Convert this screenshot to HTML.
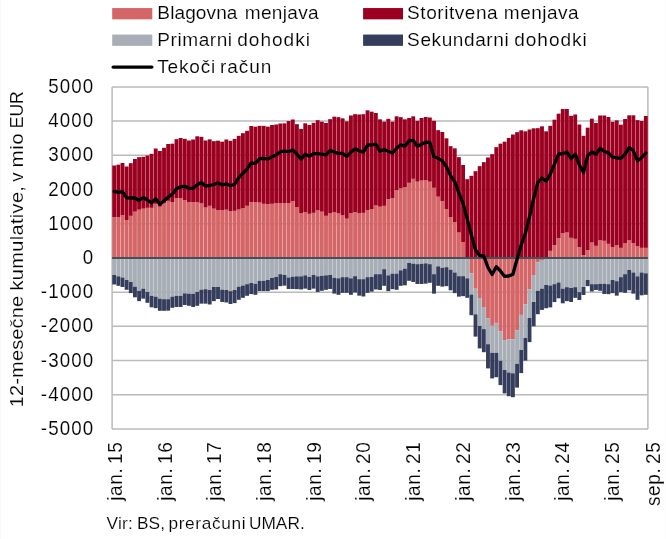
<!DOCTYPE html>
<html lang="sl">
<head>
<meta charset="utf-8">
<title>Tekoči račun</title>
<style>
html,body{margin:0;padding:0;background:#fff;}
body{width:666px;height:539px;overflow:hidden;}
svg{display:block;}
text{font-family:"Liberation Sans",sans-serif;fill:#000;}
</style>
</head>
<body>
<svg width="666" height="539" viewBox="0 0 666 539">
<rect width="666" height="539" fill="#fff"/>
<rect x="0" y="0" width="1" height="539" fill="#f8f8f8"/><rect x="665" y="0" width="1" height="539" fill="#fbfbfb"/>
<g stroke="#bababa" stroke-width="1.5" fill="none">
<line x1="112.1" y1="86.9" x2="647.9" y2="86.9"/>
<line x1="112.1" y1="121.11" x2="647.9" y2="121.11"/>
<line x1="112.1" y1="155.32" x2="647.9" y2="155.32"/>
<line x1="112.1" y1="189.53" x2="647.9" y2="189.53"/>
<line x1="112.1" y1="223.74" x2="647.9" y2="223.74"/>
<line x1="112.1" y1="292.16" x2="647.9" y2="292.16"/>
<line x1="112.1" y1="326.37" x2="647.9" y2="326.37"/>
<line x1="112.1" y1="360.58" x2="647.9" y2="360.58"/>
<line x1="112.1" y1="394.79" x2="647.9" y2="394.79"/>
<line x1="112.1" y1="429" x2="647.9" y2="429"/>
<line x1="112.1" y1="86.9" x2="112.1" y2="429"/>
<line x1="647.9" y1="86.9" x2="647.9" y2="429"/>
</g>
<g id="blagovna" fill="#d46667">
<rect x="112.24" y="217" width="3.87" height="40.7"/>
<rect x="116.39" y="217" width="3.87" height="40.7"/>
<rect x="120.55" y="215" width="3.87" height="42.7"/>
<rect x="124.7" y="220" width="3.87" height="37.7"/>
<rect x="128.85" y="215.83" width="3.87" height="41.87"/>
<rect x="133.01" y="211.67" width="3.87" height="46.03"/>
<rect x="137.16" y="209.67" width="3.87" height="48.03"/>
<rect x="141.31" y="208.67" width="3.87" height="49.03"/>
<rect x="145.47" y="207.83" width="3.87" height="49.87"/>
<rect x="149.62" y="207.83" width="3.87" height="49.87"/>
<rect x="153.77" y="203.83" width="3.87" height="53.87"/>
<rect x="157.93" y="206.67" width="3.87" height="51.03"/>
<rect x="162.08" y="203.33" width="3.87" height="54.37"/>
<rect x="166.24" y="200.83" width="3.87" height="56.87"/>
<rect x="170.39" y="202" width="3.87" height="55.7"/>
<rect x="174.54" y="198" width="3.87" height="59.7"/>
<rect x="178.7" y="198" width="3.87" height="59.7"/>
<rect x="182.85" y="200" width="3.87" height="57.7"/>
<rect x="187" y="202" width="3.87" height="55.7"/>
<rect x="191.16" y="202" width="3.87" height="55.7"/>
<rect x="195.31" y="202" width="3.87" height="55.7"/>
<rect x="199.46" y="203.33" width="3.87" height="54.37"/>
<rect x="203.62" y="207.5" width="3.87" height="50.2"/>
<rect x="207.77" y="205.83" width="3.87" height="51.87"/>
<rect x="211.92" y="208.67" width="3.87" height="49.03"/>
<rect x="216.08" y="210" width="3.87" height="47.7"/>
<rect x="220.23" y="210" width="3.87" height="47.7"/>
<rect x="224.38" y="209.67" width="3.87" height="48.03"/>
<rect x="228.54" y="211.17" width="3.87" height="46.53"/>
<rect x="232.69" y="210.83" width="3.87" height="46.87"/>
<rect x="236.84" y="209.5" width="3.87" height="48.2"/>
<rect x="241" y="208" width="3.87" height="49.7"/>
<rect x="245.15" y="205.83" width="3.87" height="51.87"/>
<rect x="249.31" y="202.17" width="3.87" height="55.53"/>
<rect x="253.46" y="202.17" width="3.87" height="55.53"/>
<rect x="257.61" y="202.5" width="3.87" height="55.2"/>
<rect x="261.77" y="203.83" width="3.87" height="53.87"/>
<rect x="265.92" y="204.17" width="3.87" height="53.53"/>
<rect x="270.07" y="203.83" width="3.87" height="53.87"/>
<rect x="274.23" y="203" width="3.87" height="54.7"/>
<rect x="278.38" y="203" width="3.87" height="54.7"/>
<rect x="282.53" y="203" width="3.87" height="54.7"/>
<rect x="286.69" y="203" width="3.87" height="54.7"/>
<rect x="290.84" y="201.17" width="3.87" height="56.53"/>
<rect x="294.99" y="207" width="3.87" height="50.7"/>
<rect x="299.15" y="213.33" width="3.87" height="44.37"/>
<rect x="303.3" y="212" width="3.87" height="45.7"/>
<rect x="307.45" y="213.83" width="3.87" height="43.87"/>
<rect x="311.61" y="212.83" width="3.87" height="44.87"/>
<rect x="315.76" y="210.33" width="3.87" height="47.37"/>
<rect x="319.91" y="211.67" width="3.87" height="46.03"/>
<rect x="324.07" y="215.83" width="3.87" height="41.87"/>
<rect x="328.22" y="213.33" width="3.87" height="44.37"/>
<rect x="332.37" y="212" width="3.87" height="45.7"/>
<rect x="336.53" y="213.33" width="3.87" height="44.37"/>
<rect x="340.68" y="215.33" width="3.87" height="42.37"/>
<rect x="344.84" y="218.67" width="3.87" height="39.03"/>
<rect x="348.99" y="213.33" width="3.87" height="44.37"/>
<rect x="353.14" y="212.17" width="3.87" height="45.53"/>
<rect x="357.3" y="213.33" width="3.87" height="44.37"/>
<rect x="361.45" y="212.83" width="3.87" height="44.87"/>
<rect x="365.6" y="210" width="3.87" height="47.7"/>
<rect x="369.76" y="209.17" width="3.87" height="48.53"/>
<rect x="373.91" y="205.5" width="3.87" height="52.2"/>
<rect x="378.06" y="206.67" width="3.87" height="51.03"/>
<rect x="382.22" y="205.83" width="3.87" height="51.87"/>
<rect x="386.37" y="199.17" width="3.87" height="58.53"/>
<rect x="390.52" y="198" width="3.87" height="59.7"/>
<rect x="394.68" y="190" width="3.87" height="67.7"/>
<rect x="398.83" y="188.33" width="3.87" height="69.37"/>
<rect x="402.98" y="187" width="3.87" height="70.7"/>
<rect x="407.14" y="182.83" width="3.87" height="74.87"/>
<rect x="411.29" y="178.83" width="3.87" height="78.87"/>
<rect x="415.44" y="181.67" width="3.87" height="76.03"/>
<rect x="419.6" y="180.5" width="3.87" height="77.2"/>
<rect x="423.75" y="180" width="3.87" height="77.7"/>
<rect x="427.91" y="181.67" width="3.87" height="76.03"/>
<rect x="432.06" y="187.83" width="3.87" height="69.87"/>
<rect x="436.21" y="196.67" width="3.87" height="61.03"/>
<rect x="440.37" y="201.17" width="3.87" height="56.53"/>
<rect x="444.52" y="209.17" width="3.87" height="48.53"/>
<rect x="448.67" y="217" width="3.87" height="40.7"/>
<rect x="452.83" y="222" width="3.87" height="35.7"/>
<rect x="456.98" y="232.5" width="3.87" height="25.2"/>
<rect x="461.13" y="242" width="3.87" height="15.7"/>
<rect x="469.44" y="257.7" width="3.87" height="15.6"/>
<rect x="473.59" y="257.7" width="3.87" height="31"/>
<rect x="477.75" y="257.7" width="3.87" height="40.3"/>
<rect x="481.9" y="257.7" width="3.87" height="49.3"/>
<rect x="486.05" y="257.7" width="3.87" height="60.6"/>
<rect x="490.21" y="257.7" width="3.87" height="68.1"/>
<rect x="494.36" y="257.7" width="3.87" height="65.2"/>
<rect x="498.51" y="257.7" width="3.87" height="73.7"/>
<rect x="502.67" y="257.7" width="3.87" height="82.4"/>
<rect x="506.82" y="257.7" width="3.87" height="81.6"/>
<rect x="510.97" y="257.7" width="3.87" height="81.6"/>
<rect x="515.13" y="257.7" width="3.87" height="72.8"/>
<rect x="519.28" y="257.7" width="3.87" height="57.2"/>
<rect x="523.44" y="257.7" width="3.87" height="46.5"/>
<rect x="527.59" y="257.7" width="3.87" height="31.5"/>
<rect x="531.74" y="257.7" width="3.87" height="17.3"/>
<rect x="535.9" y="257.7" width="3.87" height="4.6"/>
<rect x="540.05" y="257.7" width="3.87" height="2.3"/>
<rect x="548.36" y="250.83" width="3.87" height="6.87"/>
<rect x="552.51" y="245" width="3.87" height="12.7"/>
<rect x="556.66" y="238" width="3.87" height="19.7"/>
<rect x="560.82" y="233" width="3.87" height="24.7"/>
<rect x="564.97" y="232.5" width="3.87" height="25.2"/>
<rect x="569.12" y="237.83" width="3.87" height="19.87"/>
<rect x="573.28" y="238.83" width="3.87" height="18.87"/>
<rect x="577.43" y="247.17" width="3.87" height="10.53"/>
<rect x="581.58" y="255" width="3.87" height="2.7"/>
<rect x="585.74" y="250" width="3.87" height="7.7"/>
<rect x="589.89" y="242.5" width="3.87" height="15.2"/>
<rect x="594.04" y="245.83" width="3.87" height="11.87"/>
<rect x="598.2" y="240.33" width="3.87" height="17.37"/>
<rect x="602.35" y="240.83" width="3.87" height="16.87"/>
<rect x="606.51" y="243.83" width="3.87" height="13.87"/>
<rect x="610.66" y="247" width="3.87" height="10.7"/>
<rect x="614.81" y="245" width="3.87" height="12.7"/>
<rect x="618.97" y="247.83" width="3.87" height="9.87"/>
<rect x="623.12" y="243.33" width="3.87" height="14.37"/>
<rect x="627.27" y="240.33" width="3.87" height="17.37"/>
<rect x="631.43" y="243" width="3.87" height="14.7"/>
<rect x="635.58" y="246.17" width="3.87" height="11.53"/>
<rect x="639.73" y="247.83" width="3.87" height="9.87"/>
<rect x="643.89" y="247.83" width="3.87" height="9.87"/>
</g>
<g id="storitvena" fill="#9b0020">
<rect x="112.24" y="165.5" width="3.87" height="51.5"/>
<rect x="116.39" y="164.67" width="3.87" height="52.33"/>
<rect x="120.55" y="163" width="3.87" height="52"/>
<rect x="124.7" y="166.5" width="3.87" height="53.5"/>
<rect x="128.85" y="163.17" width="3.87" height="52.67"/>
<rect x="133.01" y="159" width="3.87" height="52.67"/>
<rect x="137.16" y="157.17" width="3.87" height="52.5"/>
<rect x="141.31" y="156.83" width="3.87" height="51.83"/>
<rect x="145.47" y="155.5" width="3.87" height="52.33"/>
<rect x="149.62" y="153.83" width="3.87" height="54"/>
<rect x="153.77" y="148.5" width="3.87" height="55.33"/>
<rect x="157.93" y="151" width="3.87" height="55.67"/>
<rect x="162.08" y="147.83" width="3.87" height="55.5"/>
<rect x="166.24" y="144" width="3.87" height="56.83"/>
<rect x="170.39" y="143.67" width="3.87" height="58.33"/>
<rect x="174.54" y="139.17" width="3.87" height="58.83"/>
<rect x="178.7" y="138" width="3.87" height="60"/>
<rect x="182.85" y="138.83" width="3.87" height="61.17"/>
<rect x="187" y="140.5" width="3.87" height="61.5"/>
<rect x="191.16" y="139.5" width="3.87" height="62.5"/>
<rect x="195.31" y="136.33" width="3.87" height="65.67"/>
<rect x="199.46" y="136.83" width="3.87" height="66.5"/>
<rect x="203.62" y="140.5" width="3.87" height="67"/>
<rect x="207.77" y="139.33" width="3.87" height="66.5"/>
<rect x="211.92" y="141.17" width="3.87" height="67.5"/>
<rect x="216.08" y="140.67" width="3.87" height="69.33"/>
<rect x="220.23" y="141.67" width="3.87" height="68.33"/>
<rect x="224.38" y="139.5" width="3.87" height="70.17"/>
<rect x="228.54" y="140.83" width="3.87" height="70.33"/>
<rect x="232.69" y="139" width="3.87" height="71.83"/>
<rect x="236.84" y="135.83" width="3.87" height="73.67"/>
<rect x="241" y="133.17" width="3.87" height="74.83"/>
<rect x="245.15" y="130.83" width="3.87" height="75"/>
<rect x="249.31" y="126" width="3.87" height="76.17"/>
<rect x="253.46" y="126.67" width="3.87" height="75.5"/>
<rect x="257.61" y="125.83" width="3.87" height="76.67"/>
<rect x="261.77" y="125.83" width="3.87" height="78"/>
<rect x="265.92" y="126.67" width="3.87" height="77.5"/>
<rect x="270.07" y="125" width="3.87" height="78.83"/>
<rect x="274.23" y="124.5" width="3.87" height="78.5"/>
<rect x="278.38" y="123.5" width="3.87" height="79.5"/>
<rect x="282.53" y="123.33" width="3.87" height="79.67"/>
<rect x="286.69" y="121" width="3.87" height="82"/>
<rect x="290.84" y="119.5" width="3.87" height="81.67"/>
<rect x="294.99" y="124.17" width="3.87" height="82.83"/>
<rect x="299.15" y="129" width="3.87" height="84.33"/>
<rect x="303.3" y="123.33" width="3.87" height="88.67"/>
<rect x="307.45" y="125" width="3.87" height="88.83"/>
<rect x="311.61" y="122.83" width="3.87" height="90"/>
<rect x="315.76" y="120.17" width="3.87" height="90.17"/>
<rect x="319.91" y="121.67" width="3.87" height="90"/>
<rect x="324.07" y="123" width="3.87" height="92.83"/>
<rect x="328.22" y="119.17" width="3.87" height="94.17"/>
<rect x="332.37" y="116.67" width="3.87" height="95.33"/>
<rect x="336.53" y="117.17" width="3.87" height="96.17"/>
<rect x="340.68" y="118.33" width="3.87" height="97"/>
<rect x="344.84" y="121.33" width="3.87" height="97.33"/>
<rect x="348.99" y="115.5" width="3.87" height="97.83"/>
<rect x="353.14" y="114.17" width="3.87" height="98"/>
<rect x="357.3" y="114.5" width="3.87" height="98.83"/>
<rect x="361.45" y="114.17" width="3.87" height="98.67"/>
<rect x="365.6" y="110.33" width="3.87" height="99.67"/>
<rect x="369.76" y="111.67" width="3.87" height="97.5"/>
<rect x="373.91" y="113" width="3.87" height="92.5"/>
<rect x="378.06" y="119.33" width="3.87" height="87.33"/>
<rect x="382.22" y="121.67" width="3.87" height="84.17"/>
<rect x="386.37" y="118.83" width="3.87" height="80.33"/>
<rect x="390.52" y="121.67" width="3.87" height="76.33"/>
<rect x="394.68" y="116.33" width="3.87" height="73.67"/>
<rect x="398.83" y="117.17" width="3.87" height="71.17"/>
<rect x="402.98" y="119.33" width="3.87" height="67.67"/>
<rect x="407.14" y="118" width="3.87" height="64.83"/>
<rect x="411.29" y="116.33" width="3.87" height="62.5"/>
<rect x="415.44" y="120.83" width="3.87" height="60.83"/>
<rect x="419.6" y="118" width="3.87" height="62.5"/>
<rect x="423.75" y="117" width="3.87" height="63"/>
<rect x="427.91" y="117.5" width="3.87" height="64.17"/>
<rect x="432.06" y="120.83" width="3.87" height="67"/>
<rect x="436.21" y="130.17" width="3.87" height="66.5"/>
<rect x="440.37" y="132" width="3.87" height="69.17"/>
<rect x="444.52" y="138.33" width="3.87" height="70.83"/>
<rect x="448.67" y="146.17" width="3.87" height="70.83"/>
<rect x="452.83" y="148.33" width="3.87" height="73.67"/>
<rect x="456.98" y="157.17" width="3.87" height="75.33"/>
<rect x="461.13" y="165" width="3.87" height="77"/>
<rect x="465.29" y="179.17" width="3.87" height="78.53"/>
<rect x="469.44" y="175.83" width="3.87" height="81.87"/>
<rect x="473.59" y="171.17" width="3.87" height="86.53"/>
<rect x="477.75" y="166.17" width="3.87" height="91.53"/>
<rect x="481.9" y="162.17" width="3.87" height="95.53"/>
<rect x="486.05" y="157.5" width="3.87" height="100.2"/>
<rect x="490.21" y="154.17" width="3.87" height="103.53"/>
<rect x="494.36" y="147.17" width="3.87" height="110.53"/>
<rect x="498.51" y="143.67" width="3.87" height="114.03"/>
<rect x="502.67" y="141.67" width="3.87" height="116.03"/>
<rect x="506.82" y="138" width="3.87" height="119.7"/>
<rect x="510.97" y="134.5" width="3.87" height="123.2"/>
<rect x="515.13" y="132.17" width="3.87" height="125.53"/>
<rect x="519.28" y="130.33" width="3.87" height="127.37"/>
<rect x="523.44" y="131.33" width="3.87" height="126.37"/>
<rect x="527.59" y="129.5" width="3.87" height="128.2"/>
<rect x="531.74" y="128.33" width="3.87" height="129.37"/>
<rect x="535.9" y="128.17" width="3.87" height="129.53"/>
<rect x="540.05" y="126.33" width="3.87" height="131.37"/>
<rect x="544.2" y="131.33" width="3.87" height="126.37"/>
<rect x="548.36" y="125.83" width="3.87" height="125"/>
<rect x="552.51" y="119.67" width="3.87" height="125.33"/>
<rect x="556.66" y="113.67" width="3.87" height="124.33"/>
<rect x="560.82" y="109" width="3.87" height="124"/>
<rect x="564.97" y="109" width="3.87" height="123.5"/>
<rect x="569.12" y="115.83" width="3.87" height="122"/>
<rect x="573.28" y="114.5" width="3.87" height="124.33"/>
<rect x="577.43" y="124.5" width="3.87" height="122.67"/>
<rect x="581.58" y="135.83" width="3.87" height="119.17"/>
<rect x="585.74" y="127.67" width="3.87" height="122.33"/>
<rect x="589.89" y="118.67" width="3.87" height="123.83"/>
<rect x="594.04" y="123" width="3.87" height="122.83"/>
<rect x="598.2" y="115.5" width="3.87" height="124.83"/>
<rect x="602.35" y="115.5" width="3.87" height="125.33"/>
<rect x="606.51" y="117" width="3.87" height="126.83"/>
<rect x="610.66" y="121.83" width="3.87" height="125.17"/>
<rect x="614.81" y="120.33" width="3.87" height="124.67"/>
<rect x="618.97" y="124.67" width="3.87" height="123.17"/>
<rect x="623.12" y="119" width="3.87" height="124.33"/>
<rect x="627.27" y="115.33" width="3.87" height="125"/>
<rect x="631.43" y="115.33" width="3.87" height="127.67"/>
<rect x="635.58" y="120.17" width="3.87" height="126"/>
<rect x="639.73" y="121" width="3.87" height="126.83"/>
<rect x="643.89" y="116" width="3.87" height="131.83"/>
</g>
<g id="primarni" fill="#a7aeb6">
<rect x="112.24" y="257.7" width="3.87" height="17.3"/>
<rect x="116.39" y="257.7" width="3.87" height="18.63"/>
<rect x="120.55" y="257.7" width="3.87" height="19.8"/>
<rect x="124.7" y="257.7" width="3.87" height="22.3"/>
<rect x="128.85" y="257.7" width="3.87" height="24.3"/>
<rect x="133.01" y="257.7" width="3.87" height="28.97"/>
<rect x="137.16" y="257.7" width="3.87" height="33.13"/>
<rect x="141.31" y="257.7" width="3.87" height="30.97"/>
<rect x="145.47" y="257.7" width="3.87" height="34.3"/>
<rect x="149.62" y="257.7" width="3.87" height="38.13"/>
<rect x="153.77" y="257.7" width="3.87" height="38.97"/>
<rect x="157.93" y="257.7" width="3.87" height="40.97"/>
<rect x="162.08" y="257.7" width="3.87" height="41.47"/>
<rect x="166.24" y="257.7" width="3.87" height="41.47"/>
<rect x="170.39" y="257.7" width="3.87" height="38.97"/>
<rect x="174.54" y="257.7" width="3.87" height="38.13"/>
<rect x="178.7" y="257.7" width="3.87" height="38.13"/>
<rect x="182.85" y="257.7" width="3.87" height="35.63"/>
<rect x="187" y="257.7" width="3.87" height="35.97"/>
<rect x="191.16" y="257.7" width="3.87" height="36.13"/>
<rect x="195.31" y="257.7" width="3.87" height="34.3"/>
<rect x="199.46" y="257.7" width="3.87" height="31.97"/>
<rect x="203.62" y="257.7" width="3.87" height="31.47"/>
<rect x="207.77" y="257.7" width="3.87" height="32.3"/>
<rect x="211.92" y="257.7" width="3.87" height="29.3"/>
<rect x="216.08" y="257.7" width="3.87" height="29.3"/>
<rect x="220.23" y="257.7" width="3.87" height="31.97"/>
<rect x="224.38" y="257.7" width="3.87" height="32.3"/>
<rect x="228.54" y="257.7" width="3.87" height="33.47"/>
<rect x="232.69" y="257.7" width="3.87" height="32.3"/>
<rect x="236.84" y="257.7" width="3.87" height="28.97"/>
<rect x="241" y="257.7" width="3.87" height="27.8"/>
<rect x="245.15" y="257.7" width="3.87" height="26.47"/>
<rect x="249.31" y="257.7" width="3.87" height="25.3"/>
<rect x="253.46" y="257.7" width="3.87" height="26.13"/>
<rect x="257.61" y="257.7" width="3.87" height="23.13"/>
<rect x="261.77" y="257.7" width="3.87" height="23.13"/>
<rect x="265.92" y="257.7" width="3.87" height="22.3"/>
<rect x="270.07" y="257.7" width="3.87" height="20.3"/>
<rect x="274.23" y="257.7" width="3.87" height="19.3"/>
<rect x="278.38" y="257.7" width="3.87" height="16.47"/>
<rect x="282.53" y="257.7" width="3.87" height="17.3"/>
<rect x="286.69" y="257.7" width="3.87" height="19.8"/>
<rect x="290.84" y="257.7" width="3.87" height="18.97"/>
<rect x="294.99" y="257.7" width="3.87" height="18.63"/>
<rect x="299.15" y="257.7" width="3.87" height="18.63"/>
<rect x="303.3" y="257.7" width="3.87" height="17.63"/>
<rect x="307.45" y="257.7" width="3.87" height="19.3"/>
<rect x="311.61" y="257.7" width="3.87" height="17.3"/>
<rect x="315.76" y="257.7" width="3.87" height="18.63"/>
<rect x="319.91" y="257.7" width="3.87" height="18.13"/>
<rect x="324.07" y="257.7" width="3.87" height="17.63"/>
<rect x="328.22" y="257.7" width="3.87" height="17.3"/>
<rect x="332.37" y="257.7" width="3.87" height="20.13"/>
<rect x="336.53" y="257.7" width="3.87" height="20.63"/>
<rect x="340.68" y="257.7" width="3.87" height="19.47"/>
<rect x="344.84" y="257.7" width="3.87" height="19.47"/>
<rect x="348.99" y="257.7" width="3.87" height="20.63"/>
<rect x="353.14" y="257.7" width="3.87" height="18.47"/>
<rect x="357.3" y="257.7" width="3.87" height="21.47"/>
<rect x="361.45" y="257.7" width="3.87" height="21.47"/>
<rect x="365.6" y="257.7" width="3.87" height="19.47"/>
<rect x="369.76" y="257.7" width="3.87" height="19.3"/>
<rect x="373.91" y="257.7" width="3.87" height="16.47"/>
<rect x="378.06" y="257.7" width="3.87" height="16.47"/>
<rect x="382.22" y="257.7" width="3.87" height="11.47"/>
<rect x="386.37" y="257.7" width="3.87" height="17.63"/>
<rect x="390.52" y="257.7" width="3.87" height="15.97"/>
<rect x="394.68" y="257.7" width="3.87" height="15.97"/>
<rect x="398.83" y="257.7" width="3.87" height="12.63"/>
<rect x="402.98" y="257.7" width="3.87" height="10.97"/>
<rect x="407.14" y="257.7" width="3.87" height="5.3"/>
<rect x="411.29" y="257.7" width="3.87" height="5.97"/>
<rect x="415.44" y="257.7" width="3.87" height="6.47"/>
<rect x="419.6" y="257.7" width="3.87" height="6.13"/>
<rect x="423.75" y="257.7" width="3.87" height="5.63"/>
<rect x="427.91" y="257.7" width="3.87" height="6.47"/>
<rect x="432.06" y="257.7" width="3.87" height="16.47"/>
<rect x="436.21" y="257.7" width="3.87" height="8.63"/>
<rect x="440.37" y="257.7" width="3.87" height="10.13"/>
<rect x="444.52" y="257.7" width="3.87" height="9.47"/>
<rect x="448.67" y="257.7" width="3.87" height="11.97"/>
<rect x="452.83" y="257.7" width="3.87" height="14.8"/>
<rect x="456.98" y="257.7" width="3.87" height="18.47"/>
<rect x="461.13" y="257.7" width="3.87" height="18.47"/>
<rect x="465.29" y="257.7" width="3.87" height="20.63"/>
<rect x="469.44" y="273.3" width="3.87" height="21.2"/>
<rect x="473.59" y="288.7" width="3.87" height="25.6"/>
<rect x="477.75" y="298" width="3.87" height="28"/>
<rect x="481.9" y="307" width="3.87" height="22.1"/>
<rect x="486.05" y="318.3" width="3.87" height="25.9"/>
<rect x="490.21" y="325.8" width="3.87" height="27"/>
<rect x="494.36" y="322.9" width="3.87" height="29.9"/>
<rect x="498.51" y="331.4" width="3.87" height="29.4"/>
<rect x="502.67" y="340.1" width="3.87" height="29.9"/>
<rect x="506.82" y="339.3" width="3.87" height="33.2"/>
<rect x="510.97" y="339.3" width="3.87" height="34"/>
<rect x="515.13" y="330.5" width="3.87" height="33.3"/>
<rect x="519.28" y="314.9" width="3.87" height="35.1"/>
<rect x="523.44" y="304.2" width="3.87" height="33.8"/>
<rect x="527.59" y="289.2" width="3.87" height="28.8"/>
<rect x="531.74" y="275" width="3.87" height="27"/>
<rect x="535.9" y="262.3" width="3.87" height="28.5"/>
<rect x="540.05" y="260" width="3.87" height="28.67"/>
<rect x="544.2" y="257.7" width="3.87" height="27.3"/>
<rect x="548.36" y="257.7" width="3.87" height="27.8"/>
<rect x="552.51" y="257.7" width="3.87" height="26.47"/>
<rect x="556.66" y="257.7" width="3.87" height="24.8"/>
<rect x="560.82" y="257.7" width="3.87" height="30.97"/>
<rect x="564.97" y="257.7" width="3.87" height="29.47"/>
<rect x="569.12" y="257.7" width="3.87" height="30.3"/>
<rect x="573.28" y="257.7" width="3.87" height="29.47"/>
<rect x="577.43" y="257.7" width="3.87" height="34.47"/>
<rect x="581.58" y="257.7" width="3.87" height="29.3"/>
<rect x="585.74" y="257.7" width="3.87" height="22.3"/>
<rect x="589.89" y="257.7" width="3.87" height="26.47"/>
<rect x="594.04" y="257.7" width="3.87" height="26.47"/>
<rect x="598.2" y="257.7" width="3.87" height="26.13"/>
<rect x="602.35" y="257.7" width="3.87" height="26.13"/>
<rect x="606.51" y="257.7" width="3.87" height="26.47"/>
<rect x="610.66" y="257.7" width="3.87" height="22.3"/>
<rect x="614.81" y="257.7" width="3.87" height="23.47"/>
<rect x="618.97" y="257.7" width="3.87" height="19.47"/>
<rect x="623.12" y="257.7" width="3.87" height="16.47"/>
<rect x="627.27" y="257.7" width="3.87" height="12.3"/>
<rect x="631.43" y="257.7" width="3.87" height="14.8"/>
<rect x="635.58" y="257.7" width="3.87" height="18.63"/>
<rect x="639.73" y="257.7" width="3.87" height="14.8"/>
<rect x="643.89" y="257.7" width="3.87" height="15.63"/>
</g>
<g id="sekundarni" fill="#343d5c">
<rect x="112.24" y="275" width="3.87" height="9.47"/>
<rect x="116.39" y="276.33" width="3.87" height="9.47"/>
<rect x="120.55" y="277.5" width="3.87" height="9.47"/>
<rect x="124.7" y="280" width="3.87" height="9.8"/>
<rect x="128.85" y="282" width="3.87" height="11.13"/>
<rect x="133.01" y="286.67" width="3.87" height="10.63"/>
<rect x="137.16" y="290.83" width="3.87" height="10.3"/>
<rect x="141.31" y="288.67" width="3.87" height="9.97"/>
<rect x="145.47" y="292" width="3.87" height="10.8"/>
<rect x="149.62" y="295.83" width="3.87" height="11.47"/>
<rect x="153.77" y="296.67" width="3.87" height="11.47"/>
<rect x="157.93" y="298.67" width="3.87" height="12.13"/>
<rect x="162.08" y="299.17" width="3.87" height="11.63"/>
<rect x="166.24" y="299.17" width="3.87" height="11.47"/>
<rect x="170.39" y="296.67" width="3.87" height="11.13"/>
<rect x="174.54" y="295.83" width="3.87" height="11.13"/>
<rect x="178.7" y="295.83" width="3.87" height="11.13"/>
<rect x="182.85" y="293.33" width="3.87" height="11.63"/>
<rect x="187" y="293.67" width="3.87" height="12.13"/>
<rect x="191.16" y="293.83" width="3.87" height="13.13"/>
<rect x="195.31" y="292" width="3.87" height="13.8"/>
<rect x="199.46" y="289.67" width="3.87" height="13.97"/>
<rect x="203.62" y="289.17" width="3.87" height="14.47"/>
<rect x="207.77" y="290" width="3.87" height="14.47"/>
<rect x="211.92" y="287" width="3.87" height="14.13"/>
<rect x="216.08" y="287" width="3.87" height="11.97"/>
<rect x="220.23" y="289.67" width="3.87" height="12.3"/>
<rect x="224.38" y="290" width="3.87" height="12.47"/>
<rect x="228.54" y="291.17" width="3.87" height="12.8"/>
<rect x="232.69" y="290" width="3.87" height="13.13"/>
<rect x="236.84" y="286.67" width="3.87" height="13.13"/>
<rect x="241" y="285.5" width="3.87" height="12.3"/>
<rect x="245.15" y="284.17" width="3.87" height="11.63"/>
<rect x="249.31" y="283" width="3.87" height="11.13"/>
<rect x="253.46" y="283.83" width="3.87" height="10.97"/>
<rect x="257.61" y="280.83" width="3.87" height="10.3"/>
<rect x="261.77" y="280.83" width="3.87" height="10.3"/>
<rect x="265.92" y="280" width="3.87" height="11.13"/>
<rect x="270.07" y="278" width="3.87" height="11.8"/>
<rect x="274.23" y="277" width="3.87" height="12.47"/>
<rect x="278.38" y="274.17" width="3.87" height="11.97"/>
<rect x="282.53" y="275" width="3.87" height="10.63"/>
<rect x="286.69" y="277.5" width="3.87" height="11.47"/>
<rect x="290.84" y="276.67" width="3.87" height="12.3"/>
<rect x="294.99" y="276.33" width="3.87" height="12.8"/>
<rect x="299.15" y="276.33" width="3.87" height="13.13"/>
<rect x="303.3" y="275.33" width="3.87" height="13.3"/>
<rect x="307.45" y="277" width="3.87" height="12.97"/>
<rect x="311.61" y="275" width="3.87" height="13.63"/>
<rect x="315.76" y="276.33" width="3.87" height="15.63"/>
<rect x="319.91" y="275.83" width="3.87" height="14.97"/>
<rect x="324.07" y="275.33" width="3.87" height="14.47"/>
<rect x="328.22" y="275" width="3.87" height="13.97"/>
<rect x="332.37" y="277.83" width="3.87" height="15.8"/>
<rect x="336.53" y="278.33" width="3.87" height="16.47"/>
<rect x="340.68" y="277.17" width="3.87" height="15.63"/>
<rect x="344.84" y="277.17" width="3.87" height="15.63"/>
<rect x="348.99" y="278.33" width="3.87" height="16.47"/>
<rect x="353.14" y="276.17" width="3.87" height="16.3"/>
<rect x="357.3" y="279.17" width="3.87" height="16.47"/>
<rect x="361.45" y="279.17" width="3.87" height="17.3"/>
<rect x="365.6" y="277.17" width="3.87" height="15.63"/>
<rect x="369.76" y="277" width="3.87" height="14.63"/>
<rect x="373.91" y="274.17" width="3.87" height="15.3"/>
<rect x="378.06" y="274.17" width="3.87" height="15.8"/>
<rect x="382.22" y="269.17" width="3.87" height="16.63"/>
<rect x="386.37" y="275.33" width="3.87" height="15.8"/>
<rect x="390.52" y="273.67" width="3.87" height="15.47"/>
<rect x="394.68" y="273.67" width="3.87" height="16.13"/>
<rect x="398.83" y="270.33" width="3.87" height="15.47"/>
<rect x="402.98" y="268.67" width="3.87" height="16.63"/>
<rect x="407.14" y="263" width="3.87" height="17.8"/>
<rect x="411.29" y="263.67" width="3.87" height="18.3"/>
<rect x="415.44" y="264.17" width="3.87" height="19.8"/>
<rect x="419.6" y="263.83" width="3.87" height="20.13"/>
<rect x="423.75" y="263.33" width="3.87" height="20.3"/>
<rect x="427.91" y="264.17" width="3.87" height="18.63"/>
<rect x="432.06" y="274.17" width="3.87" height="19.47"/>
<rect x="436.21" y="266.33" width="3.87" height="19.47"/>
<rect x="440.37" y="267.83" width="3.87" height="18.8"/>
<rect x="444.52" y="267.17" width="3.87" height="18.97"/>
<rect x="448.67" y="269.67" width="3.87" height="20.63"/>
<rect x="452.83" y="272.5" width="3.87" height="20.63"/>
<rect x="456.98" y="276.17" width="3.87" height="20.47"/>
<rect x="461.13" y="276.17" width="3.87" height="19.97"/>
<rect x="465.29" y="278.33" width="3.87" height="19.47"/>
<rect x="469.44" y="294.5" width="3.87" height="20.7"/>
<rect x="473.59" y="314.3" width="3.87" height="22.3"/>
<rect x="477.75" y="326" width="3.87" height="22.4"/>
<rect x="481.9" y="329.1" width="3.87" height="23.1"/>
<rect x="486.05" y="344.2" width="3.87" height="24.2"/>
<rect x="490.21" y="352.8" width="3.87" height="25.6"/>
<rect x="494.36" y="352.8" width="3.87" height="24.4"/>
<rect x="498.51" y="360.8" width="3.87" height="24.3"/>
<rect x="502.67" y="370" width="3.87" height="23.4"/>
<rect x="506.82" y="372.5" width="3.87" height="23.7"/>
<rect x="510.97" y="373.3" width="3.87" height="23.9"/>
<rect x="515.13" y="363.8" width="3.87" height="23.8"/>
<rect x="519.28" y="350" width="3.87" height="23.1"/>
<rect x="523.44" y="338" width="3.87" height="22.6"/>
<rect x="527.59" y="318" width="3.87" height="24.1"/>
<rect x="531.74" y="302" width="3.87" height="24.2"/>
<rect x="535.9" y="290.8" width="3.87" height="23.4"/>
<rect x="540.05" y="288.67" width="3.87" height="21.23"/>
<rect x="544.2" y="285" width="3.87" height="23.23"/>
<rect x="548.36" y="285.5" width="3.87" height="21.9"/>
<rect x="552.51" y="284.17" width="3.87" height="17.9"/>
<rect x="556.66" y="282.5" width="3.87" height="15.8"/>
<rect x="560.82" y="288.67" width="3.87" height="14.63"/>
<rect x="564.97" y="287.17" width="3.87" height="13.97"/>
<rect x="569.12" y="288" width="3.87" height="13.97"/>
<rect x="573.28" y="287.17" width="3.87" height="10.63"/>
<rect x="577.43" y="292.17" width="3.87" height="7.8"/>
<rect x="581.58" y="287" width="3.87" height="7.97"/>
<rect x="585.74" y="280" width="3.87" height="6.13"/>
<rect x="589.89" y="284.17" width="3.87" height="7.3"/>
<rect x="594.04" y="284.17" width="3.87" height="5.8"/>
<rect x="598.2" y="283.83" width="3.87" height="6.97"/>
<rect x="602.35" y="283.83" width="3.87" height="10.13"/>
<rect x="606.51" y="284.17" width="3.87" height="9.97"/>
<rect x="610.66" y="280" width="3.87" height="13.13"/>
<rect x="614.81" y="281.17" width="3.87" height="14.47"/>
<rect x="618.97" y="277.17" width="3.87" height="14.8"/>
<rect x="623.12" y="274.17" width="3.87" height="18.63"/>
<rect x="627.27" y="270" width="3.87" height="20.3"/>
<rect x="631.43" y="272.5" width="3.87" height="21.13"/>
<rect x="635.58" y="276.33" width="3.87" height="23.47"/>
<rect x="639.73" y="272.5" width="3.87" height="22.8"/>
<rect x="643.89" y="273.33" width="3.87" height="21.47"/>
</g>
<line x1="112.1" y1="258.05" x2="647.9" y2="258.05" stroke="#484e5a" stroke-width="2"/>
<polyline id="tekoci" points="114.18,191.33 118.33,192.33 122.48,191.67 126.64,197.83 130.79,198 134.94,198 139.1,200.5 143.25,197.5 147.4,200 151.56,202.83 155.71,198.67 159.87,204.17 164.02,200.83 168.17,197.17 172.33,194.17 176.48,188.83 180.63,186.67 184.79,186.33 188.94,188.33 193.09,188.33 197.25,184.67 201.4,182.5 205.55,186.17 209.71,185.5 213.86,184.5 218.01,182.83 222.17,185 226.32,183.83 230.47,185.83 234.63,184.17 238.78,177.5 242.93,173.33 247.09,169.17 251.24,163 255.4,163.33 259.55,158.67 263.7,158.33 267.86,159.17 272.01,156.67 276.16,155 280.32,151.67 284.47,151.17 288.62,151.67 292.78,150 296.93,154.17 301.08,159.17 305.24,154.17 309.39,156.33 313.54,153.67 317.7,153.67 321.85,154.17 326,155 330.16,150.33 334.31,152.17 338.47,153.33 342.62,153.33 346.77,156.33 350.93,152.17 355.08,148.83 359.23,150.83 363.39,152.17 367.54,145 371.69,145 375.85,144.17 380,151.33 384.15,149.5 388.31,151.17 392.46,153 396.61,148.33 400.77,144.67 404.92,146.33 409.07,140.83 413.23,140.33 417.38,146.33 421.53,144.17 425.69,142.17 429.84,142.5 434,156.67 438.15,158.33 442.3,160.83 446.46,166.67 450.61,175.83 454.76,181.67 458.92,193.3 463.07,203.3 467.22,219.2 471.38,235 475.53,250 479.68,255.5 483.84,256 487.99,267.5 492.14,274.5 496.3,266.7 500.45,271 504.6,276.4 508.76,276 512.91,274.2 517.07,259 521.22,245 525.37,233.3 529.53,216.7 533.68,198.3 537.83,182.5 541.99,178 546.14,181.17 550.29,174.17 554.45,164.17 558.6,154.17 562.75,153.67 566.91,152 571.06,158.67 575.21,154.17 579.37,165 583.52,172.5 587.67,155.5 591.83,152 595.98,154.17 600.13,148.33 604.29,151.33 608.44,153 612.6,157.17 616.75,158 620.9,158.33 625.06,154.17 629.21,147.5 633.36,150.83 637.52,160.83 641.67,157.5 645.82,153" fill="none" stroke="#000" stroke-width="3.3" stroke-linejoin="round" stroke-linecap="round"/>
<rect x="112.2" y="8.05" width="40.1" height="11.3" fill="#d46667"/>
<rect x="112.2" y="34.55" width="40.1" height="11.3" fill="#a7aeb6"/>
<rect x="363.1" y="8.05" width="39.9" height="11.3" fill="#9b0020"/>
<rect x="363.1" y="34.55" width="39.9" height="11.3" fill="#343d5c"/>
<line x1="113.1" y1="67.05" x2="151.9" y2="67.05" stroke="#000" stroke-width="3.3" stroke-linecap="round"/>
<g stroke="#fff" stroke-width="0.15" stroke-linejoin="round">
<text transform="translate(158.95 18.7) scale(1.06 1)" font-size="18"><tspan x="-1.5" letter-spacing="0.080">Blagovna </tspan><tspan x="80.92" letter-spacing="0.290">menjava</tspan></text>
<text transform="translate(158.95 45.6) scale(1.06 1)" font-size="18"><tspan x="-1.5" letter-spacing="0.498">Primarni </tspan><tspan x="73.84" letter-spacing="0.939">dohodki</tspan></text>
<text transform="translate(157.65 72.6) scale(1.06 1)" font-size="18"><tspan x="-0.5" letter-spacing="0.773">Tekoči </tspan><tspan x="58.75" letter-spacing="0.861">račun</tspan></text>
<text transform="translate(408.15 18.7) scale(1.06 1)" font-size="18"><tspan x="-1" letter-spacing="0.493">Storitvena </tspan><tspan x="90.26" letter-spacing="0.432">menjava</tspan></text>
<text transform="translate(408.15 45.6) scale(1.06 1)" font-size="18"><tspan x="-1" letter-spacing="0.537">Sekundarni </tspan><tspan x="100.07" letter-spacing="0.908">dohodki</tspan></text>
<text transform="translate(94.15 93) scale(0.9721 1)" font-size="19.3" letter-spacing="1.1" word-spacing="0.0" text-anchor="end">5000</text>
<text transform="translate(94.15 127.21) scale(0.9721 1)" font-size="19.3" letter-spacing="1.1" word-spacing="0.0" text-anchor="end">4000</text>
<text transform="translate(94.15 161.42) scale(0.9721 1)" font-size="19.3" letter-spacing="1.1" word-spacing="0.0" text-anchor="end">3000</text>
<text transform="translate(94.15 195.63) scale(0.9721 1)" font-size="19.3" letter-spacing="1.1" word-spacing="0.0" text-anchor="end">2000</text>
<text transform="translate(94.15 229.84) scale(0.9721 1)" font-size="19.3" letter-spacing="1.1" word-spacing="0.0" text-anchor="end">1000</text>
<text transform="translate(94.15 264.05) scale(0.9721 1)" font-size="19.3" letter-spacing="1.1" word-spacing="0.0" text-anchor="end">0</text>
<text transform="translate(94.15 298.26) scale(0.9721 1)" font-size="19.3" letter-spacing="1.1" word-spacing="0.0" text-anchor="end">-1000</text>
<text transform="translate(94.15 332.47) scale(0.9721 1)" font-size="19.3" letter-spacing="1.1" word-spacing="0.0" text-anchor="end">-2000</text>
<text transform="translate(94.15 366.68) scale(0.9721 1)" font-size="19.3" letter-spacing="1.1" word-spacing="0.0" text-anchor="end">-3000</text>
<text transform="translate(94.15 400.89) scale(0.9721 1)" font-size="19.3" letter-spacing="1.1" word-spacing="0.0" text-anchor="end">-4000</text>
<text transform="translate(94.15 435.1) scale(0.9721 1)" font-size="19.3" letter-spacing="1.1" word-spacing="0.0" text-anchor="end">-5000</text>
<text transform="translate(121.78 441.47) rotate(-90) scale(0.9842 1)" font-size="19.4" letter-spacing="0.6" word-spacing="-2.2" text-anchor="end">jan. 15</text>
<text transform="translate(171.5 441.47) rotate(-90) scale(0.9842 1)" font-size="19.4" letter-spacing="0.6" word-spacing="-2.2" text-anchor="end">jan. 16</text>
<text transform="translate(221.22 441.47) rotate(-90) scale(0.9842 1)" font-size="19.4" letter-spacing="0.6" word-spacing="-2.2" text-anchor="end">jan. 17</text>
<text transform="translate(270.94 441.47) rotate(-90) scale(0.9842 1)" font-size="19.4" letter-spacing="0.6" word-spacing="-2.2" text-anchor="end">jan. 18</text>
<text transform="translate(320.66 441.47) rotate(-90) scale(0.9842 1)" font-size="19.4" letter-spacing="0.6" word-spacing="-2.2" text-anchor="end">jan. 19</text>
<text transform="translate(370.39 441.47) rotate(-90) scale(0.9842 1)" font-size="19.4" letter-spacing="0.6" word-spacing="-2.2" text-anchor="end">jan. 20</text>
<text transform="translate(420.11 441.47) rotate(-90) scale(0.9842 1)" font-size="19.4" letter-spacing="0.6" word-spacing="-2.2" text-anchor="end">jan. 21</text>
<text transform="translate(469.83 441.47) rotate(-90) scale(0.9842 1)" font-size="19.4" letter-spacing="0.6" word-spacing="-2.2" text-anchor="end">jan. 22</text>
<text transform="translate(519.55 441.47) rotate(-90) scale(0.9842 1)" font-size="19.4" letter-spacing="0.6" word-spacing="-2.2" text-anchor="end">jan. 23</text>
<text transform="translate(569.27 441.47) rotate(-90) scale(0.9842 1)" font-size="19.4" letter-spacing="0.6" word-spacing="-2.2" text-anchor="end">jan. 24</text>
<text transform="translate(619 441.47) rotate(-90) scale(0.9842 1)" font-size="19.4" letter-spacing="0.6" word-spacing="-2.2" text-anchor="end">jan. 25</text>
<text transform="translate(659.52 441.47) rotate(-90) scale(0.9842 1)" font-size="19.4" letter-spacing="0.6" word-spacing="-2.2" text-anchor="end">sep. 25</text>
<text transform="translate(23 405.65) rotate(-90) scale(1.05 1)" font-size="19.0"><tspan x="-1.5" letter-spacing="0.166">12-mesečne </tspan><tspan x="109.67" letter-spacing="0.341">kumulative,</tspan></text>
<text transform="translate(23 181.55) rotate(-90) scale(0.98 1)" font-size="19.0"><tspan x="-0.25" letter-spacing="0.000">v</tspan></text>
<text transform="translate(23 166.05) rotate(-90) scale(1.08 1)" font-size="19.0"><tspan x="-1.38" letter-spacing="0.581">mio</tspan></text>
<text transform="translate(23 126.75) rotate(-90) scale(0.93 1)" font-size="19.0"><tspan x="-1.62" letter-spacing="-0.085">EUR</tspan></text>
<text transform="translate(106.85 529) scale(1.04 1)" font-size="16.6"><tspan x="-0.25" letter-spacing="0.205">Vir: </tspan><tspan x="28.98" letter-spacing="0.111">BS, </tspan><tspan x="59.26" letter-spacing="0.619">preračuni </tspan><tspan x="136.61" letter-spacing="0.043">UMAR.</tspan></text>
</g>
</svg>
</body>
</html>
